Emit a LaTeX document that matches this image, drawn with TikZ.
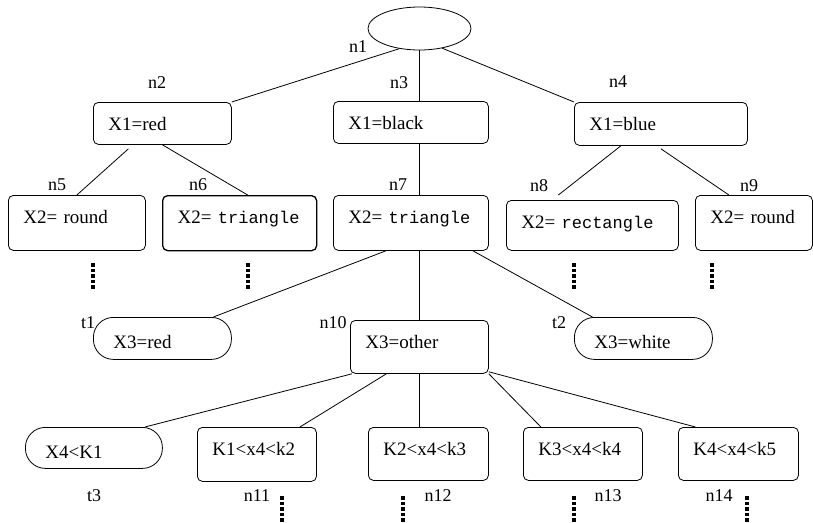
\documentclass[tikz,border=0pt]{standalone}
\usepackage{fontspec}
\setmainfont{Liberation Serif}
\setmonofont{Liberation Mono}
\usetikzlibrary{shapes.geometric}

\newcommand\mono[1]{{\fontsize{17}{20}\selectfont\ttfamily #1}}

\begin{document}
\begin{tikzpicture}[x=1pt, y=-1pt, line width=0.8pt,
  box/.style 2 args={draw, rounded corners=5pt, anchor=north west, align=left,
    inner xsep=15pt, inner ysep=0pt, text width=#1, text height=28pt, text depth=#2,
    font=\fontsize{19}{22}\selectfont},
  leaf/.style 2 args={draw, rounded corners=20pt, anchor=north west, align=left,
    inner xsep=20pt, inner ysep=0pt, text width=#1, text height=31pt, text depth=#2,
    font=\fontsize{19}{22}\selectfont},
  tag/.style={font=\fontsize{18}{21}\selectfont, inner sep=0pt},
  vdots/.style={line width=4pt, dash pattern=on 3.5pt off 2pt}]
  % --- decision tree on 813 x 522 px ---
  \useasboundingbox (0,0) rectangle (813,522);

  % Root
  \node[draw, ellipse, minimum width=103pt, minimum height=43pt, inner sep=0pt] (n1) at (419.5,28.5) {};

  % First split on X1
  \node[box={108pt}{14pt}] (n2) at (93,102) {X1=red};
  \node[box={125pt}{14pt}] (n3) at (333,101) {X1=black};
  \node[box={143pt}{15pt}] (n4) at (574,102) {X1=blue};

  % Second split on X2
  \node[box={107pt}{27pt}] (n5) at (8,195) {X2= round};
  \node[box={124pt}{27pt}, line width=1.3pt] (n6) at (162,195) {X2= \mono{triangle}};
  \node[box={125pt}{27pt}] (n7) at (333,195) {X2= \mono{triangle}};
  \node[box={142pt}{22pt}] (n8) at (506,200) {X2= \mono{rectangle}};
  \node[box={87pt}{27pt}] (n9) at (695,195) {X2= round};

  % Third split on X3
  \node[leaf={98pt}{11pt}] (t1) at (93,317) {X3=red};
  \node[box={108pt}{25pt}] (n10) at (350,320) {X3=other};
  \node[leaf={98pt}{11pt}] (t2) at (574,317) {X3=white};

  % Fourth split on X4
  \node[leaf={97pt}{10pt}] (t3) at (25,427) {X4<K1};
  \node[box={89pt}{26pt}] (n11) at (197,427) {K1<x4<k2};
  \node[box={90pt}{25pt}] (n12) at (368,427) {K2<x4<k3};
  \node[box={89pt}{25pt}] (n13) at (523,427) {K3<x4<k4};
  \node[box={90pt}{25pt}] (n14) at (678,427) {K4<x4<k5};

  % Edges
  \draw (n1.225) -- (n2.north east);
  \draw (n1.south) -- (n1.south |- n3.north);
  \draw (n1.-41) -- (n4.north west);
  \draw ([xshift=-34pt, yshift=-4pt]n2.south) -- (n5.north);
  \draw (n2.south) -- ([xshift=8pt]n6.north);
  \draw (n1.south |- n3.south) -- (n1.south |- n7.north);
  \draw ([xshift=-40pt]n4.south) -- ([xshift=-34pt, yshift=5pt]n8.north);
  \draw ([yshift=-3pt]n4.south) -- ([xshift=-25pt]n9.north);
  \draw ([xshift=-25pt]n7.south) -- ([xshift=51pt]t1.north);
  \draw (n1.south |- n7.south) -- (n1.south |- n10.north);
  \draw ([xshift=62pt]n7.south) -- ([xshift=-51pt]t2.north);
  \draw ([xshift=2pt]n10.south west) -- ([xshift=51pt]t3.north);
  \draw ([xshift=-33pt]n10.south) -- ([xshift=43pt]n11.north);
  \draw (n10.south) -- (n10.south |- n12.north);
  \draw (n10.south east) -- ([xshift=-42pt]n13.north);
  \draw ([yshift=2pt]n10.south east) -- ([xshift=-43pt]n14.north);

  % Node names
  \foreach \name/\x/\y in {n1/358/47, n2/157/83, n3/399/83, n4/618/82,
      n5/57/185, n6/198/185, n7/398/185, n8/539/186, n9/749/186,
      t1/88/323, n10/333/323, t2/559/323,
      t3/94/496, n11/257/496, n12/438/496, n13/608/496, n14/719/496}
    \node[tag] (lab-\name) at (\x,\y) {\name};

  % Vertical dots for subtrees not shown
  \foreach \x/\y in {93/263, 248/263, 574/263, 712/263,
      282/496, 403/496, 574/496, 747/496}
    \draw[vdots] (\x,\y) -- ++(0,26);
\end{tikzpicture}
\end{document}
